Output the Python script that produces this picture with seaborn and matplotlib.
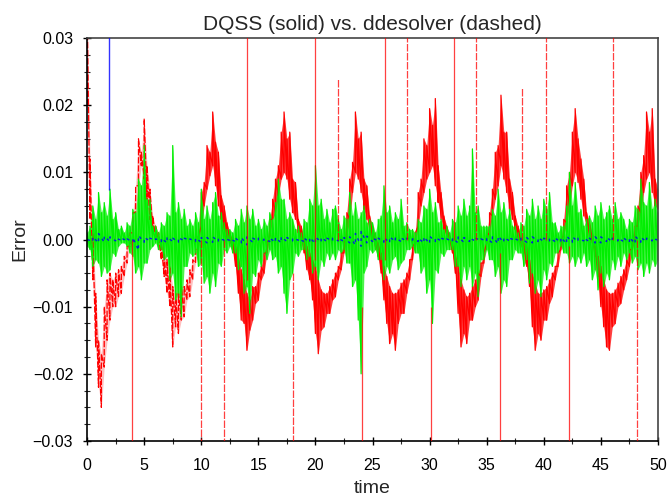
import numpy as np
import matplotlib
matplotlib.use("Agg")
import matplotlib.pyplot as plt
import seaborn as sns

# min / max of each error signal per 0.25 time bin, in units of 1e-3
t_step = 0.25
time = np.arange(0, 50 + t_step / 2, t_step)

red_hi = [35, 12, 1, -8, -15, -17, -10, -6, -5, -6, -5, -4.5, -4, -2.5, -1, 1,
          4, 8, 15, 13, 18, 11, 7.5, 3.5, 2, 1, -0.5, -2, -3, -4, -7, -8,
          -8, -7, -7, -6, -4.5, -3, -1.5, 0.5, 7, 8.5, 14, 13, 19, 14.5, 13, 6.5,
          5, 2.5, 1, 0, -1, -2.5, -4.5, -6, -8, -9, -7, -7, -5, -4, -2, -0.5,
          3, 6, 9, 11, 16, 19, 15, 16, 9, 8.5, 3, 2, 0, -1, -2, -3,
          -4, -6, -7.5, -8, -8, -7, -6, -5, -4, -2, -0.5, 4, 9, 11.5, 19, 15,
          16, 9, 8, 3.5, 2, 0.5, -0.5, -2, -4, -5.5, -7, -8, -8, -7.5, -6.5, -6,
          -5, -3, -1, 1, 7, 9, 15, 14, 19.5, 17, 21, 11, 7, 3.5, 2, 0.5,
          -0.5, -2, -4, -6, -7.5, -8.5, -8, -7, -6, -5, -3.5, -2, 0.5, 4, 7.5, 13,
          14, 21.5, 16, 16, 9, 7, 3.5, 2, 0.5, -0.5, -1, -3, -5, -6.5, -8, -8,
          -7.5, -7, -6, -5, -4, -2, 0, 3, 8, 10, 16, 19.5, 15, 12, 9, 4,
          2.5, 1, -1, -2.5, -4, -6, -7.5, -8, -8, -7.5, -6.5, -5.5, -4.5, -3, -1.5, 0,
          2, 5, 10, 12.5, 19, 16, 19.5, 9, 7.5]
red_lo = [20, 3, -6, -16, -22, -25, -19, -15, -12, -10, -10, -8.5, -8, -5.5, -3.5, -1,
          1, 4, 8, 11, 9, 6, 3, 1.5, 0, -1, -3, -5.5, -8, -10, -16, -13,
          -14, -12, -11.5, -9, -8.5, -6, -3.5, -1, 2, 5, 7.5, 9.5, 11, 8, 5, 3,
          1.5, 0, -0.5, -1.5, -4, -8, -12, -12.5, -16.5, -13.5, -12, -9.5, -9, -6, -5, -2,
          0.5, 3, 4, 6.5, 9, 10, 9, 6, 4, 3, 1, 0, -2, -4.5, -6, -9,
          -14, -17, -13.5, -13, -11, -11, -9, -8.5, -6, -4.5, -2, 0.5, 3, 7, 10, 9,
          7, 4.5, 3, 1.5, 0, -1, -2.5, -5, -9, -12.5, -15.5, -14, -16.5, -12.5, -11, -11,
          -8, -6, -3, -0.5, 2, 5, 7, 9, 10, 11, 8, 5.5, 3, 1.5, 0.5, -0.5,
          -2, -5, -11, -16, -14, -15.5, -12, -12, -10, -9, -5.5, -3.5, -0.5, 1, 3.5, 6,
          8, 11, 9, 7, 4.5, 3, 1.5, 0, -1, -2, -4, -7, -13, -16.5, -14, -15,
          -12, -12, -9.5, -8.5, -6, -4, -1.5, 0.5, 2.5, 5, 8, 10, 8.5, 6, 3.5, 2,
          0.5, -0.5, -2.5, -5.5, -10, -13, -16, -16.5, -13, -12.5, -10, -9.5, -7.5, -6, -4, -1.5,
          0, 2, 4, 7, 9, 10, 7, 5, 4.5]

green_hi = [1, 2, 5, 3, 7, 4, 5.5, 3.5, 7.5, 3, 4, 1.5, 2, 1, 2.5, 2,
            4.5, 4, 9, 8, 14, 6, 6, 2, 2, 1, 2.5, 2, 4, 3.5, 14, 4,
            5.5, 3, 4.5, 2, 3, 2, 4, 2.5, 7.5, 3, 5, 3, 5.5, 7, 3.5, 4,
            2.5, 1.5, 1.5, 1, 3, 2, 4.5, 2.5, 5, 3, 4.5, 2, 3, 1.5, 3, 2,
            4, 3, 5.5, 9, 6, 6, 3, 4, 3, 1.5, 2, 1, 3, 2.5, 6, 5,
            11, 5, 6, 3, 4.5, 2.5, 4.5, 5, 3, 1.5, 3.5, 3, 7, 3.5, 5.5, 3,
            4, 5, 2.5, 3, 2.5, 1, 3, 3.5, 8, 4, 5, 2.5, 4, 3, 6, 2,
            2.5, 1.5, 1.5, 1, 3, 2.5, 5, 4.5, 7.5, 4, 5.5, 2.5, 3, 1.5, 2, 1,
            3, 2.5, 5, 3.5, 6, 3.5, 5, 13.5, 4, 5, 2, 2, 2, 2, 4.5, 3.5,
            7.5, 4, 5.5, 3, 4.5, 2, 2, 1, 2.5, 2, 4.5, 3.5, 6, 3, 5, 3,
            6, 4.5, 7, 2.5, 2.5, 1, 2, 2, 5, 10, 5, 8.5, 4, 4.5, 2, 3,
            3.5, 2.5, 5, 3.5, 5.5, 3, 4, 5, 3, 5.5, 3, 4, 3, 1.5, 3, 2.5,
            5, 4.5, 9, 5.5, 5, 8.5, 4.5, 6, 4]
green_lo = [-1, -1.5, -4, -3, -3.5, -5.5, -4, -5, -4.5, -2, -2.5, -1, -0.5, -0.5, -1, -2,
            -2.5, -5, -4, -6, -3.5, -3.5, -1.5, -1, -0.5, -1.5, -1.5, -3, -2.5, -6, -5, -9,
            -8, -11.5, -4, -4, -2, -2.5, -2, -4, -3.5, -6.5, -5.5, -8, -5, -7, -3.5, -4,
            -1.5, -2, -1, -2, -2, -4.5, -4, -8, -7, -11, -5, -5.5, -3, -4, -2, -3,
            -1.5, -3, -2.5, -5, -4, -8, -11, -6, -5, -2, -2.5, -1.5, -1.5, -3, -2.5, -5,
            -4, -6, -3, -4, -2, -3, -2, -3, -1.5, -2, -1.5, -3.5, -3.5, -7, -6, -12,
            -20, -5, -4, -1.5, -2, -1.5, -3, -3, -6, -4, -5, -3, -2.5, -4.5, -3.5, -3,
            -1.5, -1.5, -1, -2, -2, -5, -4, -8, -6, -12.5, -4.5, -5, -2, -2.5, -1.5, -1.5,
            -1.5, -4, -4, -7, -4, -6, -4, -7, -5, -8.5, -3, -3, -1.5, -3, -3, -5.5,
            -4, -8, -6, -7, -3, -3, -1.5, -2, -2, -4, -3, -6.5, -5, -8, -6, -8.5,
            -4.5, -6, -3.5, -4, -2, -2, -1, -2, -2, -3.5, -2.5, -4, -2.5, -3.5, -2, -4,
            -3, -6, -4.5, -7.5, -5, -7, -5, -6, -3, -4.5, -2.5, -4, -2, -3, -2, -3.5,
            -2.5, -4.5, -3.5, -5.5, -3.5, -5, -3, -4, -3]

# third state, coarser bins of 0.5
blue_time = np.arange(0, 50.25, 0.5)
blue_hi = [0, 0.4, 0.9, 0.5, 0.4, 0.2, 0.2, 0.1, 0.3, 0.6, 0.3, 0.2, 0.1, 0.2, 0.4, 0.2,
           0.3, 0.2, 0.1, 0.2, 0.3, 0.3, 0.4, 0.2, 0.1, 0.1, 0.2, 0.3, 0.4, 0.2, 0.2, 0.1,
           0.2, 0.3, 0.4, 0.3, 0.2, 0.1, 0.2, 0.3, 0.4, 0.3, 0.2, 0.2, 0.2, 0.3, 0.4, 0.9,
           1.2, 0.5, 0.2, 0.2, 0.3, 0.4, 0.3, 0.2, 0.2, 0.1, 0.2, 0.4, 0.5, 0.3, 0.2, 0.1,
           0.2, 0.4, 0.3, 0.2, 0.2, 0.1, 0.2, 0.4, 0.5, 0.3, 0.2, 0.1, 0.2, 0.3, 0.4, 0.3,
           0.2, 0.2, 0.2, 0.3, 0.5, 0.4, 0.2, 0.2, 0.2, 0.4, 0.4, 0.3, 0.2, 0.2, 0.2, 0.3,
           0.5, 0.3, 0.2, 0.2, 0.1]
blue_lo = [0, -0.3, -0.5, -0.4, -0.3, -0.2, -0.1, -0.2, -0.4, -1.6, -0.4, -0.2, -0.1, -0.3, -0.5, -0.3,
           -0.4, -0.2, -0.1, -0.3, -0.4, -0.5, -0.4, -0.3, -0.1, -0.1, -0.3, -0.5, -0.8, -0.4, -0.2, -0.1,
           -0.3, -0.4, -0.5, -0.3, -0.2, -0.1, -0.3, -0.4, -0.6, -0.4, -0.3, -0.2, -0.2, -0.3, -0.5, -0.8,
           -1.0, -0.5, -0.3, -0.2, -0.4, -0.5, -0.3, -0.3, -0.2, -0.1, -0.3, -0.5, -0.6, -0.3, -0.2, -0.1,
           -0.3, -0.5, -0.4, -0.3, -0.2, -0.1, -0.3, -0.5, -0.6, -0.4, -0.2, -0.1, -0.3, -0.4, -0.5, -0.3,
           -0.3, -0.2, -0.3, -0.4, -0.6, -0.4, -0.3, -0.2, -0.3, -0.5, -0.5, -0.3, -0.3, -0.2, -0.3, -0.4,
           -0.6, -0.4, -0.3, -0.2, -0.1]

# discontinuity spikes: time, start level, end level (1e-3)
red_solid_spike_t = [3.9, 14.0, 20.0, 24.05, 26.1, 30.1, 32.1, 36.2, 42.2]
red_solid_spike_from = [0, -6, -3, -10, -3, -10, 0, -2, -1]
red_solid_spike_to = [-40, 40, 40, -40, 40, -40, 40, -40, -40]
red_dashed_spike_t = [9.95, 12.0, 18.0, 22.0, 28.0, 34.1, 38.1, 40.2, 46.1, 48.2]
red_dashed_spike_from = [0, 0, -5, 0, 0, 0, 0, 0, 0, 0]
red_dashed_spike_to = [-40, -40, -40, 24, 40, 40, 22.6, 40, 40, -40]
blue_spike_t = [1.93]
blue_spike_from = [7.4]
blue_spike_to = [40]

y_ticks = [-0.03, -0.02, -0.01, 0.0, 0.01, 0.02, 0.03]
y_tick_labels = ["\u22120.03", "\u22120.02", "\u22120.01", "0.00", "0.01", "0.02", "0.03"]
x_ticks = [0, 5, 10, 15, 20, 25, 30, 35, 40, 45, 50]


def zigzag(t, lo, hi):
    # draw each bin as a vertical stroke from its min to its max
    x = np.repeat(np.asarray(t), 2)
    y = np.column_stack([np.asarray(lo), np.asarray(hi)]).ravel() * 1e-3
    return x, y


def band(ax, t, lo, hi, color, alpha):
    ax.fill_between(t, np.asarray(lo) * 1e-3, np.asarray(hi) * 1e-3,
                    color=color, alpha=alpha, linewidth=0)


sns.set_theme(style="ticks")
plt.rcParams["font.family"] = ["Liberation Sans", "DejaVu Sans"]

fig = plt.figure(figsize=(6.7, 4.98), dpi=100)
ax = fig.add_axes([0.130, 0.1145, 0.852, 0.809])

RED, GREEN, BLUE = "#ff0000", "#00ee00", "#0000ff"

# red: ddesolver (dashed) early part, DQSS (solid) later
cut = 40
band(ax, time[:cut], red_lo[:cut], red_hi[:cut], RED, 0.25)
xr, yr = zigzag(time[:cut], red_lo[:cut], red_hi[:cut])
sns.lineplot(x=xr, y=yr, ax=ax, sort=False, estimator=None, color=RED,
             linewidth=0.9, linestyle=(0, (5, 1.5)))
band(ax, time[cut - 1:], red_lo[cut - 1:], red_hi[cut - 1:], RED, 0.75)
xr, yr = zigzag(time[cut - 1:], red_lo[cut - 1:], red_hi[cut - 1:])
sns.lineplot(x=xr, y=yr, ax=ax, sort=False, estimator=None, color=RED, linewidth=0.9)

band(ax, time, green_lo, green_hi, GREEN, 0.7)
xg, yg = zigzag(time, green_lo, green_hi)
sns.lineplot(x=xg, y=yg, ax=ax, sort=False, estimator=None, color=GREEN, linewidth=0.9)

xb, yb = zigzag(blue_time, blue_lo, blue_hi)
sns.lineplot(x=xb, y=yb, ax=ax, sort=False, estimator=None, color=BLUE,
             linewidth=1.0, alpha=0.85, linestyle=(0, (2, 3)))

ax.vlines(red_solid_spike_t, np.array(red_solid_spike_from) * 1e-3,
          np.array(red_solid_spike_to) * 1e-3, color=RED, linewidth=0.9, alpha=0.75, zorder=5)
ax.vlines(red_dashed_spike_t, np.array(red_dashed_spike_from) * 1e-3,
          np.array(red_dashed_spike_to) * 1e-3, color=RED, linewidth=0.9, alpha=0.75,
          linestyles=(0, (6, 1.2)), zorder=5)
ax.vlines(blue_spike_t, np.array(blue_spike_from) * 1e-3, np.array(blue_spike_to) * 1e-3,
          color=BLUE, linewidth=1.0, alpha=0.8, zorder=5)

ax.set_xlim(0, 50)
ax.set_ylim(-0.03, 0.03)
ax.set_xticks(x_ticks)
ax.set_xticklabels([str(v) for v in x_ticks])
ax.set_yticks(y_ticks)
ax.set_yticklabels(y_tick_labels)
ax.set_xticks(np.arange(0, 50.1, 2.5), minor=True)
ax.set_yticks(np.arange(-0.03, 0.0301, 0.0025), minor=True)
ax.tick_params(axis="both", which="major", direction="inout", length=6, width=1,
               labelsize=11.5, colors="black")
ax.tick_params(axis="x", which="major", pad=9)
ax.tick_params(axis="y", which="major", pad=7)
ax.tick_params(axis="both", which="minor", direction="inout", length=4, width=0.8)

for side in ["left", "bottom"]:
    ax.spines[side].set_color("black")
    ax.spines[side].set_linewidth(1.2)
for side in ["top", "right"]:
    ax.spines[side].set_visible(True)
    ax.spines[side].set_color("#444444")
    ax.spines[side].set_linewidth(1.2)

ax.set_xlabel("time", fontsize=14, labelpad=5)
ax.set_ylabel("Error", fontsize=14, labelpad=3)
ax.set_title("DQSS (solid) vs. ddesolver (dashed)", fontsize=15, pad=6)

fig.savefig("out.png", dpi=100)
